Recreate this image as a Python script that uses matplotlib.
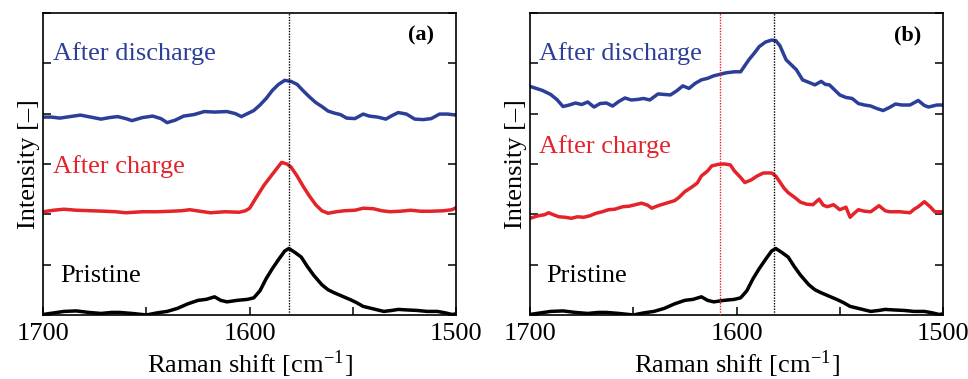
import matplotlib
matplotlib.use("Agg")
import matplotlib.pyplot as plt
from matplotlib.ticker import MultipleLocator

plt.rcParams["font.family"] = ["Liberation Serif", "DejaVu Serif"]
plt.rcParams["mathtext.fontset"] = "stix"

BLUE = "#2c3f98"
RED = "#e4232a"

# Pristine (same sample in both panels)
pristine_x = [1700, 1695, 1690, 1684, 1678, 1672, 1667, 1663, 1657, 1650, 1645, 1640,
              1635, 1630, 1625, 1621, 1617, 1614, 1611, 1606, 1601, 1598, 1595, 1592,
              1589, 1586, 1583, 1581, 1578, 1575, 1572, 1569, 1565, 1562, 1559, 1555,
              1551, 1548, 1545, 1540, 1535, 1531, 1528, 1524, 1519, 1514, 1509, 1505,
              1502, 1500]
pristine_y = [0.01, 0.04, 0.07, 0.08, 0.05, 0.03, 0.05, 0.05, 0.03, 0.00, 0.04, 0.07,
              0.13, 0.22, 0.29, 0.31, 0.36, 0.29, 0.26, 0.29, 0.31, 0.34, 0.48, 0.72,
              0.92, 1.10, 1.27, 1.32, 1.24, 1.15, 0.96, 0.79, 0.60, 0.50, 0.44, 0.37,
              0.30, 0.24, 0.17, 0.12, 0.07, 0.09, 0.11, 0.10, 0.09, 0.07, 0.07, 0.04,
              0.01, 0.02]

# (a) after charge
a_charge_x = [1700, 1695, 1690, 1684, 1677, 1670, 1665, 1660, 1652, 1645, 1638, 1633,
              1629, 1624, 1619, 1612, 1605, 1602, 1600, 1597, 1593, 1590, 1587, 1584.5,
              1582, 1580, 1577, 1574, 1571, 1568, 1565, 1562, 1558, 1554, 1549, 1545,
              1540, 1536, 1532, 1527, 1522, 1517, 1512, 1506, 1502, 1500]
a_charge_y = [2.05, 2.08, 2.10, 2.08, 2.07, 2.06, 2.05, 2.03, 2.05, 2.05, 2.06, 2.07,
              2.09, 2.06, 2.03, 2.05, 2.04, 2.07, 2.12, 2.32, 2.58, 2.74, 2.90, 3.03,
              3.00, 2.94, 2.76, 2.55, 2.36, 2.19, 2.07, 2.02, 2.05, 2.07, 2.08, 2.12,
              2.11, 2.07, 2.05, 2.06, 2.08, 2.06, 2.06, 2.07, 2.09, 2.13]

# (a) after discharge
a_dis_x = [1700, 1696, 1692, 1687, 1682, 1677, 1672, 1668, 1664, 1660, 1657, 1652,
           1647, 1643, 1640, 1636, 1632, 1627, 1622, 1617, 1611, 1607, 1604, 1601,
           1598, 1595, 1592, 1589, 1586, 1583, 1580, 1577, 1574, 1571, 1568, 1565,
           1562, 1559, 1556, 1553, 1549, 1545, 1542, 1538, 1534, 1531, 1528, 1524,
           1520, 1516, 1512, 1508, 1504, 1500]
a_dis_y = [3.93, 3.93, 3.91, 3.94, 3.97, 3.93, 3.89, 3.92, 3.94, 3.90, 3.86, 3.92,
           3.95, 3.90, 3.82, 3.87, 3.95, 3.98, 4.04, 4.03, 4.04, 4.00, 3.94, 4.00,
           4.06, 4.17, 4.30, 4.46, 4.58, 4.66, 4.64, 4.58, 4.45, 4.33, 4.22, 4.14,
           4.05, 4.01, 3.98, 3.91, 3.90, 3.99, 3.95, 3.93, 3.89, 3.96, 4.02, 3.99,
           3.89, 3.88, 3.90, 3.99, 3.99, 3.97]

# (b) after charge
b_charge_x = [1700, 1696, 1693, 1691, 1688, 1686, 1683, 1680, 1677, 1674, 1671, 1668,
              1665, 1662, 1659, 1655, 1652, 1649, 1646, 1643, 1641, 1638, 1634, 1630,
              1628, 1625, 1622, 1619, 1617, 1614, 1612, 1609, 1606, 1603, 1601, 1598,
              1596, 1593, 1590, 1587, 1583, 1581, 1579, 1577, 1575, 1572, 1569, 1566,
              1563, 1560, 1558, 1556, 1553, 1550, 1547, 1545, 1543, 1541, 1538, 1535,
              1531, 1528, 1526, 1521, 1516, 1514, 1512, 1509, 1506, 1504, 1500]
b_charge_y = [1.92, 1.97, 1.99, 2.03, 1.98, 1.95, 1.94, 1.92, 1.95, 1.94, 1.97, 2.02,
              2.05, 2.09, 2.10, 2.15, 2.16, 2.19, 2.22, 2.18, 2.12, 2.17, 2.22, 2.27,
              2.33, 2.45, 2.53, 2.62, 2.76, 2.86, 2.96, 2.99, 3.00, 2.98, 2.86, 2.73,
              2.63, 2.68, 2.76, 2.82, 2.82, 2.76, 2.64, 2.52, 2.43, 2.34, 2.24, 2.20,
              2.19, 2.30, 2.18, 2.15, 2.19, 2.09, 2.14, 1.94, 2.02, 2.09, 2.06, 2.05,
              2.17, 2.07, 2.05, 2.05, 2.03, 2.10, 2.15, 2.25, 2.14, 2.05, 2.05]

# (b) after discharge
b_dis_x = [1700, 1697, 1694, 1690, 1687, 1684, 1681, 1678, 1675, 1672, 1669, 1666,
           1663, 1660, 1657, 1654, 1651, 1648, 1645, 1642, 1638, 1635, 1632, 1629,
           1626, 1623, 1620, 1617, 1614, 1611, 1608, 1605, 1601, 1598, 1596, 1594,
           1591, 1589, 1586, 1583, 1581, 1579, 1576, 1573, 1571, 1568, 1565, 1562,
           1559, 1557, 1555, 1552, 1550, 1547, 1544, 1541, 1538, 1535, 1532, 1529,
           1526, 1523, 1520, 1516, 1512, 1509, 1507, 1503, 1500]
b_dis_y = [4.54, 4.50, 4.46, 4.38, 4.28, 4.14, 4.17, 4.21, 4.18, 4.23, 4.13, 4.20,
           4.21, 4.15, 4.24, 4.31, 4.27, 4.28, 4.30, 4.27, 4.39, 4.38, 4.37, 4.45,
           4.55, 4.50, 4.60, 4.67, 4.70, 4.75, 4.78, 4.81, 4.83, 4.83, 4.95, 5.07,
           5.22, 5.33, 5.42, 5.46, 5.45, 5.35, 5.07, 4.95, 4.87, 4.67, 4.62, 4.57,
           4.64, 4.58, 4.57, 4.45, 4.37, 4.32, 4.30, 4.20, 4.17, 4.15, 4.10, 4.06,
           4.12, 4.19, 4.17, 4.17, 4.26, 4.16, 4.13, 4.17, 4.17]

g_band = 1581
d_shift = 1608

fig = plt.figure(figsize=(9.68, 3.79), dpi=100)
ax_a = fig.add_axes([0.0447, 0.169, 0.4264, 0.797])
ax_b = fig.add_axes([0.5475, 0.169, 0.4267, 0.797])

LW = 2.5
FS = 19


def style_axes(ax):
    ax.set_xlim(1700, 1500)
    ax.set_ylim(0, 6)
    ax.xaxis.set_major_locator(MultipleLocator(100))
    ax.xaxis.set_minor_locator(MultipleLocator(50))
    ax.yaxis.set_major_locator(MultipleLocator(1))
    ax.tick_params(axis="both", which="both", direction="in", length=6, width=1.1,
                   labelsize=FS)
    ax.tick_params(axis="y", right=True, labelleft=False)
    ax.tick_params(axis="x", pad=6)
    for s in ax.spines.values():
        s.set_linewidth(1.2)
    ax.set_xlabel("Raman shift [cm$^{\\mathregular{-1}}$]", fontsize=FS, labelpad=2)
    ax.set_ylabel("Intensity [\u2013]", fontsize=FS, labelpad=2)


# panel (a)
ax_a.plot(pristine_x, pristine_y, color="black", lw=LW)
ax_a.plot(a_charge_x, a_charge_y, color=RED, lw=LW)
ax_a.plot(a_dis_x, a_dis_y, color=BLUE, lw=LW)
ax_a.axvline(g_band, color="black", lw=1, ls=(0, (1, 1)), zorder=3)
style_axes(ax_a)
ax_a.text(1695.5, 5.2, "After discharge", color=BLUE, fontsize=FS, va="center")
ax_a.text(1695.5, 2.94, "After charge", color=RED, fontsize=FS, va="center")
ax_a.text(1692, 0.78, "Pristine", color="black", fontsize=FS, va="center")
ax_a.text(1517, 5.55, "(a)", fontsize=16, fontweight="bold", ha="center", va="center")

# panel (b)
ax_b.plot(pristine_x, pristine_y, color="black", lw=LW)
ax_b.plot(b_charge_x, b_charge_y, color=RED, lw=LW)
ax_b.plot(b_dis_x, b_dis_y, color=BLUE, lw=LW)
ax_b.axvline(d_shift, color=RED, lw=1, ls=(0, (1, 1)), zorder=3)
ax_b.axvline(g_band + 1, color="black", lw=1, ls=(0, (1, 1)), zorder=3)
style_axes(ax_b)
ax_b.text(1695.5, 5.2, "After discharge", color=BLUE, fontsize=FS, va="center")
ax_b.text(1695.5, 3.34, "After charge", color=RED, fontsize=FS, va="center")
ax_b.text(1692, 0.78, "Pristine", color="black", fontsize=FS, va="center")
ax_b.text(1517, 5.55, "(b)", fontsize=16, fontweight="bold", ha="center", va="center")

fig.savefig("out.png", dpi=100)
